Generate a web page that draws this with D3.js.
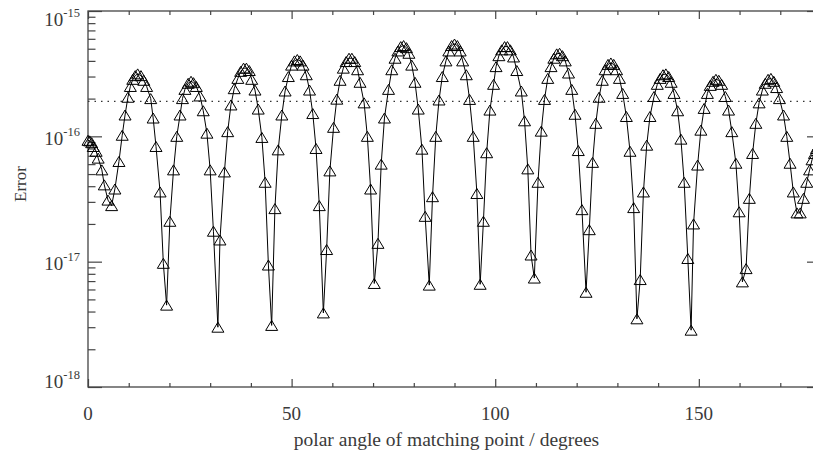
<!DOCTYPE html>
<html>
<head>
  <meta charset="utf-8">
  <title>Error vs polar angle</title>
  <script src="https://cdn.jsdelivr.net/npm/d3@7"></script>
  <style>
    body { margin: 0; background: #fff; }
    svg { display: block; font-family: "Liberation Serif", "DejaVu Serif", serif; }
    .axis line { stroke: #444; stroke-width: 1.2; }
    .axis path { display: none; }
    text { fill: #3a3a3a; }
  </style>
</head>
<body>
<script>
// polar angle (degrees) of each matching point
var angles = [
  0.0, 0.4, 0.9, 1.3, 2.0, 2.5, 3.4, 4.0, 4.9, 5.8, 6.6, 7.6, 8.4, 9.1, 9.8, 10.4, 11.0, 11.6, 12.2, 13.0,
  13.7, 14.4, 15.4, 16.0, 16.7, 17.7, 18.5, 19.3,
  20.1, 21.0, 21.8, 22.6, 23.2, 23.8, 24.6, 25.3, 25.9, 26.6, 27.5, 28.3, 29.2, 30.0, 30.8, 31.9,
  32.4, 33.5, 34.3, 35.1, 35.9, 36.8, 37.5, 38.2, 38.9, 39.6, 40.2, 41.0, 41.8, 42.7, 43.5, 44.3, 45.1,
  45.9, 46.7, 47.6, 48.4, 49.2, 50.0, 50.7, 51.4, 52.1, 52.8, 53.6, 54.4, 55.2, 56.0, 56.8, 57.8,
  58.6, 59.4, 60.3, 61.1, 61.9, 62.7, 63.4, 64.1, 64.8, 65.5, 66.2, 66.8, 67.8, 68.6, 69.4, 70.3,
  71.2, 72.0, 72.8, 73.8, 74.6, 75.4, 76.1, 76.8, 77.5, 78.2, 78.8, 79.5, 80.3, 81.1, 82.0, 82.8, 83.8,
  84.6, 85.4, 86.2, 87.0, 87.9, 88.6, 89.3, 90.0, 90.7, 91.4, 92.0, 92.9, 93.7, 94.6, 95.5, 96.3,
  97.1, 97.9, 98.7, 99.6, 100.2, 100.9, 101.6, 102.3, 103.0, 103.7, 104.5, 105.3, 106.4, 107.2, 108.0, 108.8, 109.6,
  110.5, 111.3, 112.1, 112.9, 113.7, 114.4, 115.1, 115.8, 116.5, 117.2, 118.0, 118.8, 119.6, 120.4, 121.3, 122.3,
  123.1, 123.9, 124.7, 125.5, 126.3, 127.0, 127.7, 128.4, 129.1, 129.8, 130.5, 131.3, 132.2, 133.1, 134.0, 134.8,
  135.6, 136.4, 137.2, 138.0, 139.0, 139.8, 140.5, 141.2, 141.9, 142.6, 143.2, 143.9, 144.8, 145.6, 146.4, 147.3, 148.1,
  148.7, 149.7, 150.5, 151.3, 152.1, 152.8, 153.5, 154.2, 154.9, 155.6, 156.5, 157.3, 158.1, 159.1, 159.9, 160.7,
  161.6, 162.4, 163.2, 164.0, 164.8, 165.6, 166.3, 167.0, 167.7, 168.4, 169.1, 169.8, 170.8, 171.6, 172.4, 173.2,
  174.1, 174.9, 175.7, 176.5, 177.2, 177.8, 178.4, 178.9, 179.4, 180.0
];

// error at each matching point
var errors = [
  9.3e-17, 9.2e-17, 8.9e-17, 8.3e-17, 7.6e-17, 6.7e-17, 5.4e-17, 4.1e-17, 3.1e-17, 2.8e-17,
  3.8e-17, 6.3e-17, 1.02e-16, 1.48e-16, 2.05e-16, 2.5e-16, 2.85e-16, 3.05e-16, 3.15e-16, 3.05e-16,
  2.8e-16, 2.5e-16, 2.0e-16, 1.4e-16, 8.3e-17, 3.6e-17, 9.7e-18, 4.5e-18,
  2.1e-17, 5.4e-17, 1.0e-16, 1.48e-16, 2.0e-16, 2.37e-16, 2.65e-16, 2.75e-16, 2.68e-16, 2.5e-16,
  2.1e-16, 1.6e-16, 1.06e-16, 5.4e-17, 1.75e-17, 3.0e-18,
  1.49e-17, 5.2e-17, 1.09e-16, 1.78e-16, 2.4e-16, 2.9e-16, 3.3e-16, 3.5e-16, 3.5e-16, 3.35e-16,
  2.85e-16, 2.34e-16, 1.65e-16, 9.8e-17, 4.3e-17, 9.4e-18, 3.1e-18,
  2.65e-17, 7.8e-17, 1.48e-16, 2.3e-16, 3.0e-16, 3.7e-16, 4.0e-16, 4.1e-16, 4.0e-16, 3.7e-16,
  3.1e-16, 2.34e-16, 1.52e-16, 8.0e-17, 2.8e-17, 3.9e-18,
  1.25e-17, 5.3e-17, 1.18e-16, 1.98e-16, 2.8e-16, 3.5e-16, 3.95e-16, 4.2e-16, 4.2e-16, 3.95e-16,
  3.4e-16, 2.7e-16, 1.85e-16, 1.0e-16, 3.8e-17, 6.7e-18,
  1.4e-17, 6.0e-17, 1.4e-16, 2.37e-16, 3.4e-16, 4.2e-16, 4.8e-16, 5.2e-16, 5.3e-16, 5.1e-16,
  4.6e-16, 3.7e-16, 2.7e-16, 1.65e-16, 7.9e-17, 2.3e-17, 6.5e-18,
  3.3e-17, 1.0e-16, 1.95e-16, 3.0e-16, 4.0e-16, 4.8e-16, 5.3e-16, 5.45e-16, 5.3e-16, 4.8e-16,
  4.0e-16, 3.1e-16, 1.97e-16, 1.0e-16, 3.5e-17, 6.6e-18,
  2.1e-17, 7.4e-17, 1.62e-16, 2.6e-16, 3.6e-16, 4.4e-16, 4.9e-16, 5.2e-16, 5.2e-16, 4.9e-16,
  4.3e-16, 3.35e-16, 2.3e-16, 1.33e-16, 5.5e-17, 1.13e-17, 7.4e-18,
  4.3e-17, 1.1e-16, 1.97e-16, 2.9e-16, 3.6e-16, 4.2e-16, 4.55e-16, 4.6e-16, 4.4e-16, 4.0e-16,
  3.2e-16, 2.37e-16, 1.5e-16, 7.7e-17, 2.6e-17, 5.7e-18,
  1.8e-17, 6.2e-17, 1.27e-16, 2.05e-16, 2.8e-16, 3.4e-16, 3.75e-16, 3.85e-16, 3.75e-16, 3.4e-16,
  2.9e-16, 2.2e-16, 1.44e-16, 7.6e-17, 2.7e-17, 3.5e-18,
  7.2e-18, 3.6e-17, 8.5e-17, 1.44e-16, 2.08e-16, 2.6e-16, 2.9e-16, 3.1e-16, 3.15e-16, 3.0e-16,
  2.7e-16, 2.2e-16, 1.6e-16, 9.5e-17, 4.3e-17, 1.06e-17, 2.84e-18,
  2.0e-17, 5.9e-17, 1.12e-16, 1.67e-16, 2.2e-16, 2.55e-16, 2.75e-16, 2.85e-16, 2.8e-16, 2.6e-16,
  2.08e-16, 1.62e-16, 1.09e-16, 6.1e-17, 2.5e-17, 6.9e-18,
  8.8e-18, 3.2e-17, 7.3e-17, 1.27e-16, 1.85e-16, 2.34e-16, 2.65e-16, 2.85e-16, 2.9e-16, 2.75e-16,
  2.45e-16, 2.0e-16, 1.48e-16, 1.0e-16, 6.1e-17, 3.6e-17, 2.45e-17, 2.45e-17, 3.2e-17, 4.3e-17,
  5.4e-17, 6.5e-17, 7.3e-17, 8.0e-17, 8.5e-17, 8.8e-17
];

var xMajor = [0, 50, 100, 150];
var yMajor = [1e-18, 1e-17, 1e-16, 1e-15];
var yExp = ["-18", "-17", "-16", "-15"];
var refLevel = 1.9e-16;   // dotted reference line

var width = 813, height = 453;
var svg = d3.select("body").append("svg")
  .attr("width", width)
  .attr("height", height);

// plot box runs a bit past the right edge of the window, like the original
var x = d3.scaleLinear().domain([0, 180]).range([88, 821]);
var y = d3.scaleLog().domain([1e-18, 1e-15]).range([387, 11]);

var xMinor = d3.range(0, 181, 10).filter(function(d) { return xMajor.indexOf(d) < 0; });
var yMinor = y.ticks().filter(function(d) { return yMajor.indexOf(d) < 0; });

// frame
svg.append("rect")
  .attr("x", x(0)).attr("y", y(1e-15))
  .attr("width", x(180) - x(0)).attr("height", y(1e-18) - y(1e-15))
  .attr("fill", "none").attr("stroke", "#444").attr("stroke-width", 1.3);

function ticks(axis, tr, vals, size) {
  svg.append("g").attr("class", "axis").attr("transform", tr)
    .call(axis.tickValues(vals).tickSize(-size).tickFormat(""));
}
ticks(d3.axisBottom(x), "translate(0," + y(1e-18) + ")", xMajor, 8);
ticks(d3.axisBottom(x), "translate(0," + y(1e-18) + ")", xMinor, 4);
ticks(d3.axisTop(x), "translate(0," + y(1e-15) + ")", xMajor, 8);
ticks(d3.axisTop(x), "translate(0," + y(1e-15) + ")", xMinor, 4);
ticks(d3.axisLeft(y), "translate(" + x(0) + ",0)", yMajor, 14);
ticks(d3.axisLeft(y), "translate(" + x(0) + ",0)", yMinor, 7.5);
ticks(d3.axisRight(y), "translate(" + x(180) + ",0)", yMajor, 14);
ticks(d3.axisRight(y), "translate(" + x(180) + ",0)", yMinor, 7.5);

// x tick labels
svg.append("g").selectAll("text")
  .data(xMajor).enter().append("text")
  .attr("x", function(d) { return x(d); })
  .attr("y", y(1e-18) + 32.5)
  .attr("text-anchor", "middle")
  .style("font-size", "19px")
  .text(function(d) { return d; });

// y tick labels, end labels nudged inside the frame as in the original
var yShift = [1, 8.5, 8.7, 15];
var yl = svg.append("g").selectAll("text")
  .data(yMajor).enter().append("text")
  .attr("x", 80)
  .attr("y", function(d, i) { return y(d) + yShift[i]; })
  .attr("text-anchor", "end")
  .style("font-size", "19px");
yl.append("tspan").text("10");
yl.append("tspan")
  .attr("dy", -8.7)
  .style("font-size", "12.5px")
  .text(function(d, i) { return yExp[i]; });

// axis titles
svg.append("text")
  .attr("x", 446.5).attr("y", 446)
  .attr("text-anchor", "middle")
  .style("font-size", "19.5px")
  .text("polar angle of matching point / degrees");

svg.append("text")
  .attr("transform", "translate(26,184) rotate(-90)")
  .attr("text-anchor", "middle")
  .style("font-size", "17px")
  .text("Error");

// dotted reference level
svg.append("line")
  .attr("x1", x(0)).attr("x2", x(180))
  .attr("y1", y(refLevel)).attr("y2", y(refLevel))
  .attr("stroke", "#333").attr("stroke-width", 1.2)
  .attr("stroke-dasharray", "1.5,5");

var pts = angles.map(function(a, i) { return {a: a, e: errors[i]}; });

svg.append("path")
  .datum(pts)
  .attr("fill", "none")
  .attr("stroke", "#000")
  .attr("stroke-width", 1)
  .attr("d", d3.line()
    .x(function(d) { return x(d.a); })
    .y(function(d) { return y(d.e); }));

// open triangles
svg.append("g").selectAll("path")
  .data(pts).enter().append("path")
  .attr("transform", function(d) { return "translate(" + x(d.a) + "," + y(d.e) + ")"; })
  .attr("d", "M-6,5L0,-5L6,5Z")
  .attr("fill", "none")
  .attr("stroke", "#000")
  .attr("stroke-width", 1);
</script>
</body>
</html>
